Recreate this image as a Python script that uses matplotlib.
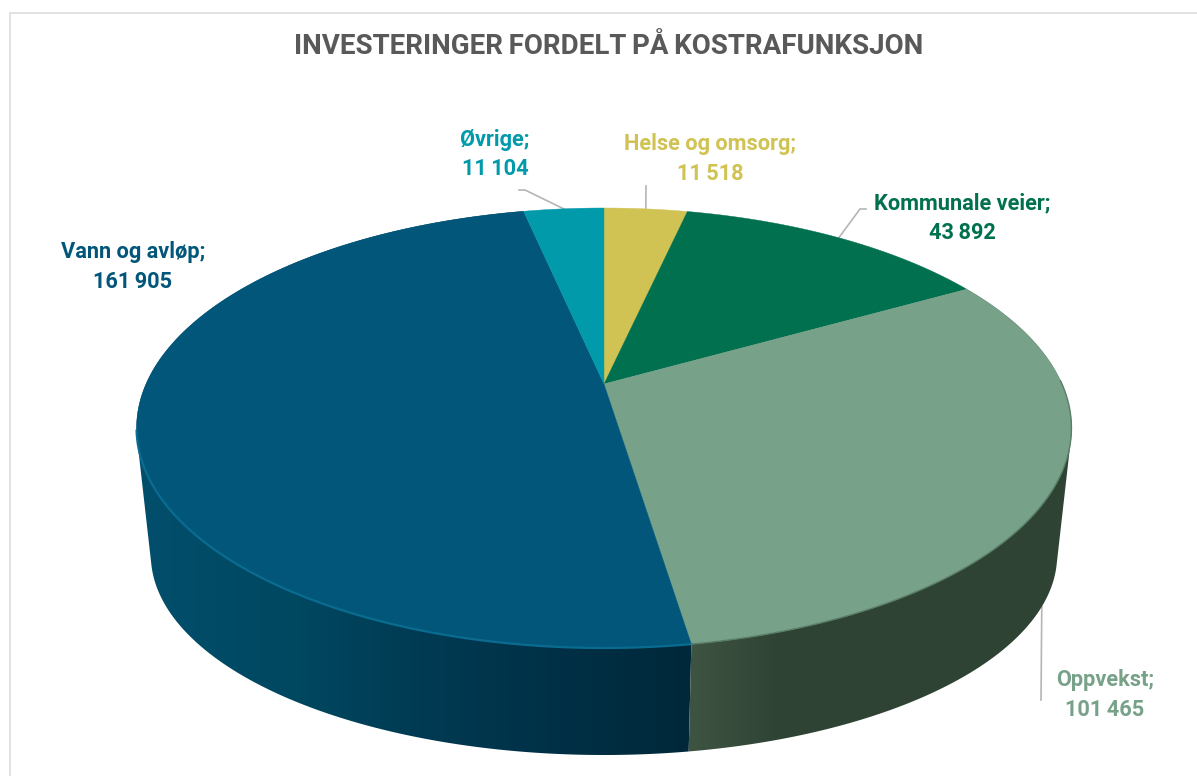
import numpy as np
import matplotlib
matplotlib.use("Agg")
import matplotlib.pyplot as plt
from matplotlib.colors import to_rgb
from matplotlib.patches import Polygon

categories = ["Helse og omsorg", "Kommunale veier", "Oppvekst", "Vann og avløp", "Øvrige"]
values = [11518, 43892, 101465, 161905, 11104]
top_colors = ["#d0c354", "#00704f", "#77a188", "#01567a", "#009aab"]
title = "INVESTERINGER FORDELT PÅ KOSTRAFUNKSJON"
FONT = ["Roboto", "DejaVu Sans"]

W, H = 1197, 776
fig = plt.figure(figsize=(W / 100, H / 100), dpi=100)
ax = fig.add_axes([0, 0, 1, 1])
ax.set_xlim(0, W); ax.set_ylim(H, 0); ax.axis("off")

# perspective projection of the pie's unit disc
CX, K = 604.0, 0.2
def project(theta, level="top"):
    u, v = np.sin(theta), np.cos(theta)
    d = 1 + K * v
    if level == "top":
        return CX + 458 * u / d, 384 - 211.2 * v / d
    return CX + 444 * u / d, 515 - 192 * v / d

def convex_hull(points):
    pts = sorted(set(map(tuple, points)))
    def half(seq):
        out = []
        for p in seq:
            while len(out) >= 2 and ((out[-1][0] - out[-2][0]) * (p[1] - out[-2][1])
                                     - (out[-1][1] - out[-2][1]) * (p[0] - out[-2][0])) <= 0:
                out.pop()
            out.append(p)
        return out[:-1]
    return np.array(half(pts) + half(pts[::-1]))

vals = np.array(values, float)
edges = np.concatenate([[0], np.cumsum(vals)]) / vals.sum() * 2 * np.pi

# frame
ax.plot([9.5, 9.5, W + 5], [H + 5, 12.5, 12.5], color="#dcdcdc", lw=1.2, zorder=0)

# leader lines (anchored on the rim at the middle of each slice)
def leader(i, pts, level="top"):
    mid = (edges[i] + edges[i + 1]) / 2
    x, y = project(mid, level=level)
    xs = [x] + [p[0] for p in pts]; ys = [y] + [p[1] for p in pts]
    ax.plot(xs, ys, color="#b5b5b5", lw=1.2, zorder=1, solid_joinstyle="miter")
leader(0, [(646, 186)])
leader(1, [(860, 209), (866, 209)])
leader(2, [(1041, 700)], level="bottom")
leader(4, [(525, 190), (519, 190)])

# side wall: horizontal gradient clipped to the wall outline
wall_stops = {
    3: [(130, "#024f6d"), (300, "#004760"), (420, "#003b53"), (560, "#003046"), (690, "#00283a")],
    2: [(685, "#3f5543"), (780, "#2f4334"), (1080, "#2f4334")],
}
xg = np.arange(0, W + 1)
for i, stops in wall_stops.items():
    xp = [s[0] for s in stops]
    rgb = np.array([to_rgb(s[1]) for s in stops])
    img = np.stack([np.interp(xg, xp, rgb[:, c]) for c in range(3)], axis=-1)[None, :, :]
    th = np.linspace(edges[i], edges[i + 1], 300)
    xt, yt = project(th)
    xb, yb = project(th, level="bottom")
    outline = convex_hull(np.column_stack([np.concatenate([xt, xb]), np.concatenate([yt, yb])]))
    im = ax.imshow(img, extent=(0, W, H, 0), aspect="auto", interpolation="bilinear", zorder=2)
    im.set_clip_path(Polygon(outline, closed=True, transform=ax.transData))
ax.set_xlim(0, W); ax.set_ylim(H, 0)

# top faces
for i in range(len(vals)):
    th = np.linspace(edges[i], edges[i + 1], 200)
    xt, yt = project(th)
    xs = np.concatenate([[CX], xt]); ys = np.concatenate([[384], yt])
    ax.fill(xs, ys, color=top_colors[i], lw=0.3, zorder=3)

# rim highlights
th = np.linspace(edges[3], edges[3] + (edges[4] - edges[3]) * 0.49, 200)
ax.plot(*project(th), color="#0a6c90", lw=1.6, zorder=4)
th = np.linspace(edges[2] + 0.5, edges[3], 200)
ax.plot(*project(th), color="#5a7f69", lw=1.0, zorder=4)

ax.text(609, 47, title.replace(" ", "\u2009"), ha="center", va="center", family=FONT,
        fontsize=20, fontweight="bold", color="#595959", zorder=6)

label_pos = [(710, 144, 174), (962, 203, 233), (1105, 680, 710), (133, 252, 282), (495, 140, 169)]
for name, val, col, (x, y1, y2) in zip(categories, values, top_colors, label_pos):
    ax.text(x, y1, name + ";", ha="center", va="center", family=FONT, fontsize=15.7,
            fontweight="bold", color=col, zorder=6)
    ax.text(x, y2, f"{val:,}".replace(",", "\u2009"), ha="center", va="center", family=FONT,
            fontsize=15.7, fontweight="bold", color=col, zorder=6)

fig.savefig("out.png", dpi=100, facecolor="white")
